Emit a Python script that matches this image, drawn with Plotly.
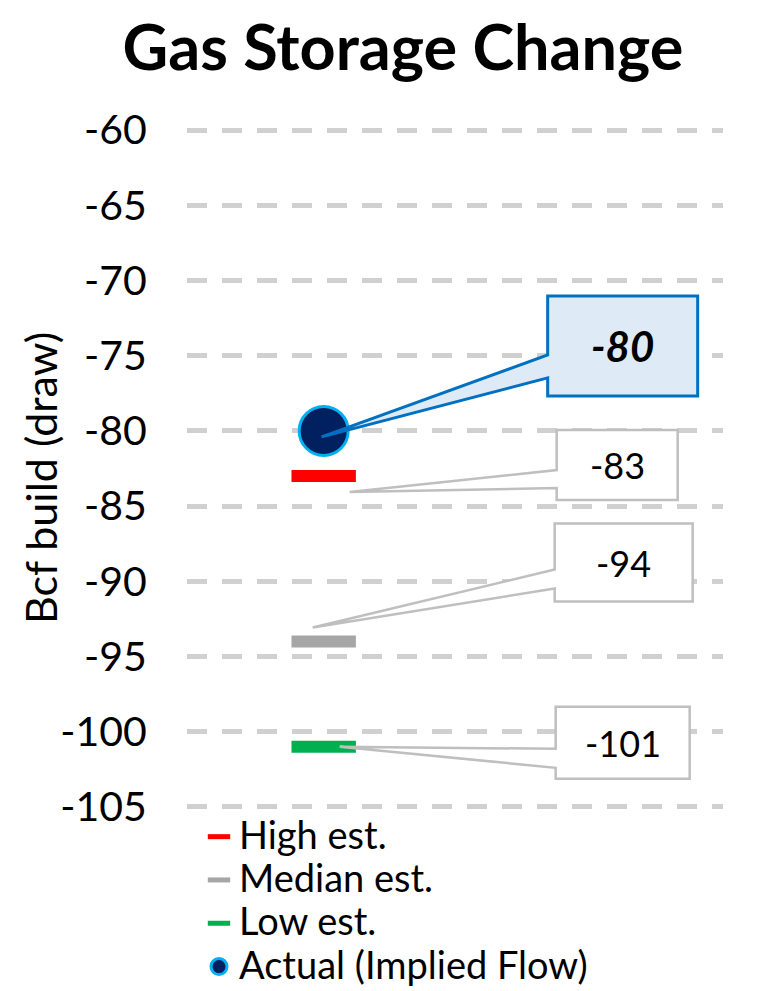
import plotly.graph_objects as go

# ---------------- data ----------------
categories = ["Gas Storage Change"]
high_est = [-83]
median_est = [-94]
low_est = [-101]
actual = [-80]
series_names = ["High est.", "Median est.", "Low est.", "Actual (Implied Flow)"]
tick_vals = [-60, -65, -70, -75, -80, -85, -90, -95, -100, -105]
tick_labels = ["-60", "-65", "-70", "-75", "-80", "-85", "-90", "-95", "-100", "-105"]
y_title = "Bcf build (draw)"
chart_title = "Gas Storage Change"

# ---------------- geometry / style ----------------
# (page body has an 8px margin, so the figure is drawn 8px smaller)
W, H = 768, 983
L, R, T, B = 179, 715, 119, 802
XR = [-0.51, 1.49]
YR = [-105.2, -59.8]
FONT = "Lato"


def dx(px):
    return px * (XR[1] - XR[0]) / (R - L)


def dy(py):
    # pixel offset (downwards positive) -> data offset
    return -py * (YR[1] - YR[0]) / (B - T)


def big(txt, size=38):
    return f"<span style='font-size:{size}px'>{txt}</span>"


fig = go.Figure()

bar_series = [
    (series_names[0], high_est, "#FF0000"),
    (series_names[1], median_est, "#A6A6A6"),
    (series_names[2], low_est, "#00B050"),
]
for name, vals, col in bar_series:
    fig.add_trace(go.Scatter(
        x=[0], y=vals, name=big(name), mode="markers",
        marker=dict(symbol="line-ew", size=46, color=col,
                    line=dict(color=col, width=12)),
        hoverinfo="skip",
    ))

fig.add_trace(go.Scatter(
    x=[0], y=actual, name=big(series_names[3]), mode="markers",
    marker=dict(symbol="circle", size=49, color="#002060",
                line=dict(color="#00B0F0", width=3)),
    hoverinfo="skip",
))

# ---------------- callouts ----------------
# (value, text, tip offset px, box [left, top, right, bottom] px rel. to mark,
#  wedge base y px, line colour, fill, line width, font size)
callouts = [
    (actual[0], "<b><i>-80</i></b>", (-2, 6), (224, -135, 374, -35), (-76, -53),
     "#0070C0", "#DEEBF7", 3, 42),
    (high_est[0], "-83", (26, 16), (233, -46, 354, 24), (-6, 12),
     "#BFBFBF", "#FFFFFF", 2.5, 36),
    (median_est[0], "-94", (-11, -14), (231, -118, 369, -40), (-72, -53),
     "#BFBFBF", "#FFFFFF", 2.5, 36),
    (low_est[0], "-101", (16, 0), (232, -40, 366, 32), (2, 21),
     "#BFBFBF", "#FFFFFF", 2.5, 36),
]

shapes = []
annotations = []
for val, txt, tip, box, wedge, lc, fc, lw, fs in callouts:
    x0 = 0

    def P(px, py):
        return f"{x0 + dx(px):.5f},{val + dy(py):.5f}"
    bl, bt, br, bb = box
    path = ("M " + P(*tip) + " L " + P(bl, wedge[0]) + " L " + P(bl, bt) +
            " L " + P(br, bt) + " L " + P(br, bb) + " L " + P(bl, bb) +
            " L " + P(bl, wedge[1]) + " Z")
    shapes.append(dict(type="path", path=path, xref="x", yref="y",
                       line=dict(color=lc, width=lw), fillcolor=fc,
                       layer="above"))
    annotations.append(dict(
        x=x0 + dx((bl + br) / 2), y=val + dy((bt + bb) / 2),
        xref="x", yref="y", text=txt, showarrow=False,
        font=dict(family=FONT, size=fs, color="#000000"),
        xanchor="center", yanchor="middle"))

annotations.append(dict(
    x=(32 - L) / (R - L), y=(B - 470) / (B - T), xref="paper", yref="paper",
    text=y_title, textangle=-90, showarrow=False,
    font=dict(family=FONT, size=43, color="#000000"),
    xanchor="center", yanchor="middle"))

fig.update_layout(
    width=W, height=H,
    margin=dict(l=L, r=W - R, t=T, b=H - B, autoexpand=False),
    paper_bgcolor="white", plot_bgcolor="white",
    title=dict(text=f"<b>{chart_title}</b>", x=395 / W, xref="container",
               xanchor="center", y=1 - 40 / H, yref="container",
               yanchor="middle",
               font=dict(family=FONT, size=63, color="#000000")),
    xaxis=dict(range=XR, visible=False, showgrid=False, zeroline=False,
               fixedrange=True),
    yaxis=dict(range=YR, tickvals=tick_vals, ticktext=tick_labels,
               showgrid=True, gridcolor="#D0D0D0", gridwidth=5,
               griddash="20px,15px", zeroline=False, showline=False,
               ticks="outside", ticklen=31, tickcolor="rgba(0,0,0,0)",
               tickfont=dict(family=FONT, size=41, color="#000000"),
               automargin=False, fixedrange=True),
    showlegend=True,
    legend=dict(x=(191 - L) / (R - L), xref="paper", xanchor="left",
                y=(B - 802) / (B - T), yref="paper", yanchor="top",
                font=dict(family=FONT, size=31, color="#000000"),
                bgcolor="rgba(0,0,0,0)", itemclick=False,
                tracegroupgap=0),
    shapes=shapes,
    annotations=annotations,
)

fig.write_html("out.html")
